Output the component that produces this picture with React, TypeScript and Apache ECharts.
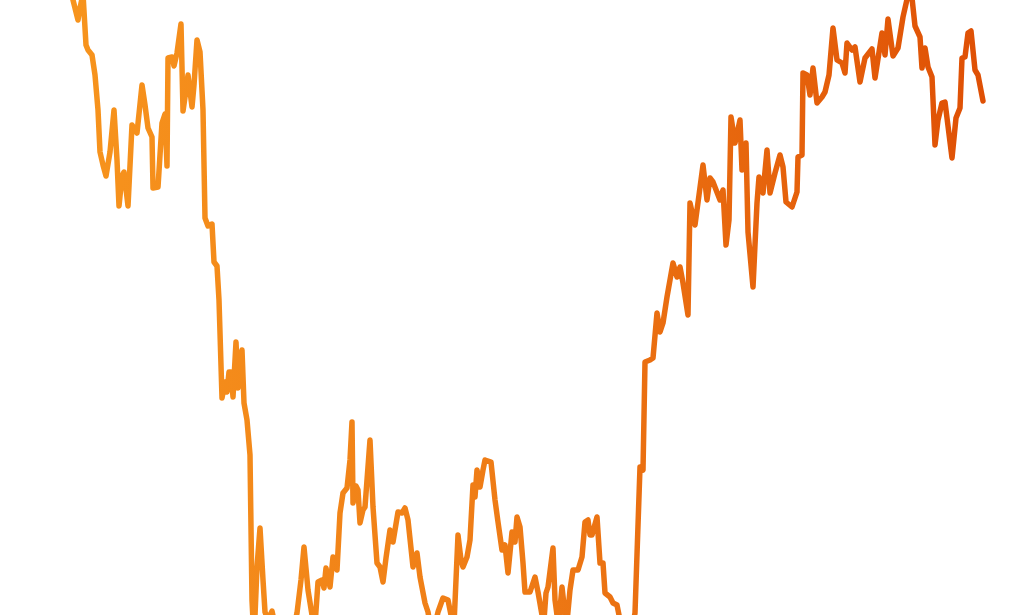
import { useRef, useEffect } from 'react'
import * as echarts from 'echarts'

// day index along the x axis and level (0 = bottom edge, 615 = top edge)
const days = [
  68, 73, 78, 80, 83, 86, 88, 92, 95, 98, 100, 103, 106, 110, 114, 117, 119, 122, 124, 128,
  132, 134, 137, 142, 145, 148, 152, 153, 158, 162, 165, 167, 168, 172, 174, 177, 181, 183, 186, 188,
  192, 194, 197, 200, 203, 205, 208, 212, 214, 217, 219, 222, 225, 227, 229, 231, 233, 236, 238, 240,
  242, 244, 247, 250, 252, 254, 257, 260, 263, 265, 268, 272, 275, 285, 293, 297, 301, 304, 308, 312,
  315, 318, 322, 324, 326, 330, 333, 337, 340, 343, 347, 350, 352, 353, 356, 358, 360, 363, 365, 370,
  373, 377, 380, 383, 386, 390, 393, 398, 402, 405, 408, 413, 417, 420, 425, 428, 431, 435, 438, 443,
  448, 451, 454, 458, 461, 463, 467, 470, 473, 475, 477, 480, 483, 485, 491, 495, 498, 502, 505, 508,
  512, 515, 517, 520, 523, 525, 530, 535, 538, 542, 544, 546, 548, 553, 555, 557, 559, 562, 565, 567,
  570, 573, 578, 582, 585, 588, 590, 592, 597, 600, 603, 605, 610, 613, 617, 619, 623, 630, 635, 640,
  643, 645, 650, 653, 657, 660, 663, 667, 673, 677, 680, 683, 688, 690, 695, 699, 703, 707, 710, 713,
  720, 723, 726, 729, 731, 735, 740, 742, 746, 748, 753, 757, 759, 763, 767, 770, 775, 780, 783, 786,
  792, 797, 798, 802, 803, 807, 810, 813, 817, 822, 825, 829, 833, 837, 842, 845, 847, 852, 855, 860,
  865, 872, 875, 882, 885, 888, 893, 898, 903, 908, 912, 915, 920, 922, 925, 928, 932, 935, 938, 942,
  945, 952, 956, 960, 962, 965, 968, 971, 975, 978, 983,
]

const levels = [
  635, 615, 595, 607, 621, 570, 565, 560, 540, 505, 463, 450, 439, 463, 505, 455, 409, 439, 443, 409,
  490, 487, 482, 530, 510, 487, 478, 427, 428, 492, 501, 449, 557, 558, 549, 562, 591, 504, 525, 540,
  508, 530, 575, 563, 505, 397, 389, 391, 353, 349, 315, 217, 233, 223, 243, 243, 218, 273, 227, 253,
  265, 212, 195, 160, 15, -25, 48, 87, 35, 3, -5, 4, -10, -35, -15, 2, 35, 68, 25, 0,
  -10, 33, 35, 27, 47, 28, 58, 45, 102, 122, 127, 155, 193, 112, 129, 125, 92, 105, 108, 175,
  108, 52, 48, 33, 57, 85, 73, 103, 102, 107, 95, 48, 62, 38, 12, 3, -15, -10, 3, 17,
  15, 0, -10, 80, 55, 48, 58, 75, 130, 118, 145, 128, 145, 155, 153, 115, 93, 65, 70, 42,
  83, 73, 98, 88, 52, 23, 23, 38, 23, 0, -5, 22, 28, 67, 15, 0, -5, 28, 1, -7,
  25, 45, 45, 58, 93, 95, 80, 80, 98, 52, 52, 22, 18, 12, 10, 0, -25, -25, 2, 148,
  145, 253, 255, 257, 302, 283, 292, 318, 352, 338, 348, 332, 300, 412, 390, 420, 450, 415, 437, 433,
  415, 425, 370, 395, 498, 472, 495, 445, 472, 383, 328, 412, 438, 422, 465, 422, 442, 460, 448, 413,
  408, 423, 458, 460, 542, 540, 520, 547, 512, 518, 523, 540, 587, 555, 552, 542, 572, 565, 568, 533,
  557, 566, 537, 582, 560, 596, 559, 567, 598, 620, 617, 589, 578, 547, 567, 548, 538, 470, 495, 512,
  513, 457, 497, 507, 557, 558, 582, 584, 545, 540, 514,
]

const dayRange = [0, 1024]
const levelRange = [0, 615]

export default function App() {
  const chartRef = useRef<HTMLDivElement>(null)

  useEffect(() => {
    if (!chartRef.current) return
    document.body.style.margin = '0'

    const chart = echarts.init(chartRef.current, null, { renderer: 'svg' })

    const points = days.map((d, i) => [d, levels[i]])

    chart.setOption({
      animation: false,
      backgroundColor: '#ffffff',
      grid: { left: 0, right: 0, top: 0, bottom: 0 },
      xAxis: {
        type: 'value',
        min: dayRange[0],
        max: dayRange[1],
        show: false,
      },
      yAxis: {
        type: 'value',
        min: levelRange[0],
        max: levelRange[1],
        show: false,
      },
      series: [
        {
          type: 'line',
          data: points,
          showSymbol: false,
          symbol: 'none',
          clip: true,
          lineStyle: {
            width: 5.5,
            cap: 'round',
            join: 'round',
            color: new echarts.graphic.LinearGradient(0, 0, 1, 0, [
              { offset: 0, color: '#f7941d' },
              { offset: 0.5, color: '#ee7a15' },
              { offset: 1, color: '#df5005' },
            ]),
          },
        },
      ],
    })

    return () => {
      chart.dispose()
    }
  }, [])

  return <div ref={chartRef} style={{ width: 1024, height: 615 }} />
}
